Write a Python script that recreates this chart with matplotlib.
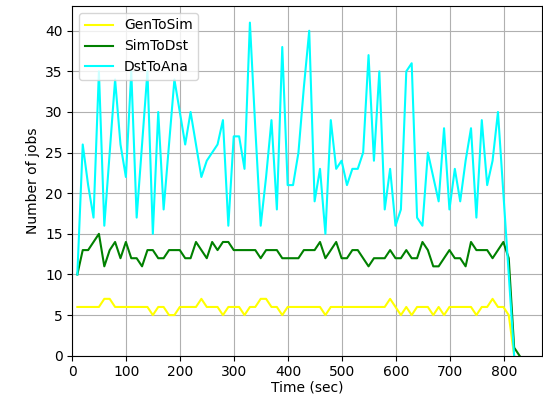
import numpy as np
import matplotlib
matplotlib.use("Agg")
import matplotlib.pyplot as plt

# sampling instants (sec), one sample roughly every 10 s
times = np.arange(9, 820, 10)
times_sim = np.arange(9, 830, 10)

gen_to_sim = [6, 6, 6, 6, 6, 7, 7, 6, 6, 6,
              6, 6, 6, 6, 5, 6, 6, 5, 5, 6,
              6, 6, 6, 7, 6, 6, 6, 5, 6, 6,
              6, 5, 6, 6, 7, 7, 6, 6, 5, 6,
              6, 6, 6, 6, 6, 6, 5, 6, 6, 6,
              6, 6, 6, 6, 6, 6, 6, 6, 7, 6,
              5, 6, 5, 6, 6, 6, 5, 6, 5, 6,
              6, 6, 6, 6, 5, 6, 6, 7, 6, 6,
              5, 0]

sim_to_dst = [10, 13, 13, 14, 15, 11, 13, 14, 12, 14,
              12, 12, 11, 13, 13, 12, 12, 13, 13, 13,
              12, 12, 14, 13, 12, 14, 13, 14, 14, 13,
              13, 13, 13, 13, 12, 13, 13, 13, 12, 12,
              12, 12, 13, 13, 13, 14, 12, 13, 14, 12,
              12, 13, 13, 12, 11, 12, 12, 12, 13, 12,
              12, 13, 12, 12, 14, 13, 11, 11, 12, 13,
              12, 12, 11, 14, 13, 13, 13, 12, 13, 14,
              12, 1, 0]

dst_to_ana = [10, 26, 21, 17, 35, 16, 25, 34, 26, 22,
              35, 17, 26, 35, 15, 30, 18, 26, 34, 30,
              26, 30, 26, 22, 24, 25, 26, 29, 16, 27,
              27, 23, 41, 28, 16, 22, 29, 18, 38, 21,
              21, 25, 33, 40, 19, 23, 15, 29, 23, 24,
              21, 23, 23, 25, 37, 24, 35, 18, 23, 16,
              18, 35, 36, 17, 16, 25, 22, 19, 28, 18,
              23, 19, 24, 28, 17, 29, 21, 24, 30, 20,
              10, 0]

fig = plt.figure(figsize=(5.43, 3.97), dpi=100)
ax = fig.add_axes([0.1335, 0.104, 0.864, 0.881])

ax.plot(times, gen_to_sim, color="yellow", lw=1.5, label="GenToSim")
ax.plot(times_sim, sim_to_dst, color="green", lw=1.5, label="SimToDst")
ax.plot(times, dst_to_ana, color="cyan", lw=1.5, label="DstToAna")

ax.set_xlim(0, 870)
ax.set_ylim(0, 43.05)
ax.set_xticks(np.arange(0, 801, 100))
ax.set_yticks(np.arange(0, 41, 5))
ax.grid(True)
ax.set_xlabel("Time (sec)", labelpad=1)
ax.set_ylabel("Number of jobs")
ax.legend(loc="upper left")

fig.savefig("out.png", dpi=100)
